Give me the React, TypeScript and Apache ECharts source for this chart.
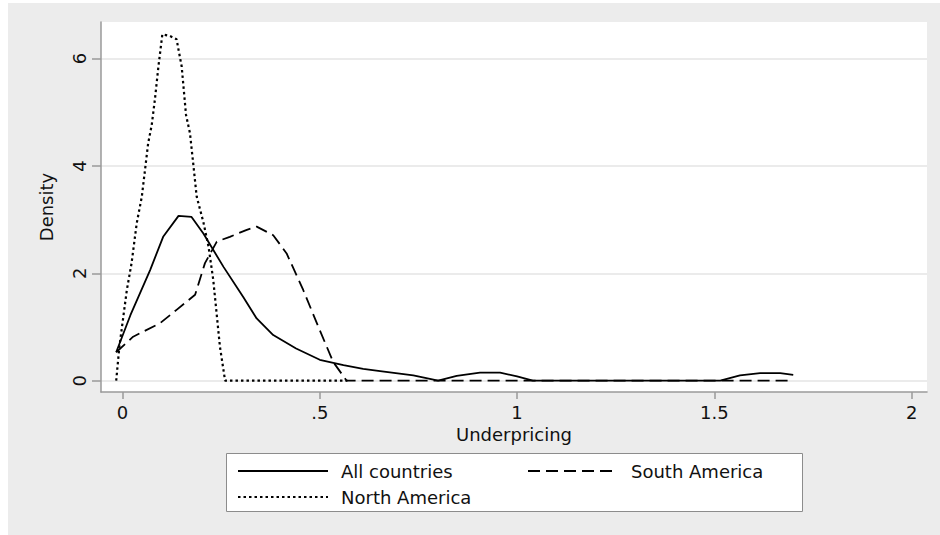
import React, { useEffect, useRef } from "react";
import * as echarts from "echarts";

const seriesNames = ["All countries", "South America", "North America"];

const allX = [-0.016, 0.02, 0.07, 0.103, 0.142, 0.175, 0.205, 0.256, 0.306, 0.34, 0.382, 0.44, 0.5, 0.56, 0.61, 0.653, 0.737, 0.8, 0.847, 0.906, 0.957, 1.0, 1.04, 1.515, 1.565, 1.616, 1.667, 1.7];
const allY = [0.53, 1.22, 2.06, 2.68, 3.07, 3.05, 2.74, 2.12, 1.56, 1.16, 0.85, 0.6, 0.39, 0.29, 0.22, 0.18, 0.1, 0.0, 0.09, 0.15, 0.15, 0.08, 0, 0, 0.1, 0.14, 0.14, 0.11];

const saX = [-0.016, 0.027, 0.095, 0.137, 0.184, 0.209, 0.239, 0.272, 0.315, 0.34, 0.382, 0.416, 0.458, 0.5, 0.534, 0.568, 1.7];
const saY = [0.53, 0.82, 1.07, 1.32, 1.6, 2.19, 2.59, 2.68, 2.81, 2.87, 2.71, 2.37, 1.69, 0.94, 0.35, 0, 0];

const naX = [-0.016, -0.008, 0.011, 0.023, 0.036, 0.049, 0.065, 0.074, 0.082, 0.091, 0.101, 0.12, 0.137, 0.15, 0.161, 0.171, 0.18, 0.188, 0.205, 0.218, 0.23, 0.247, 0.26, 0.57];
const naY = [0, 0.63, 1.69, 2.19, 2.93, 3.43, 4.42, 4.76, 5.23, 5.85, 6.45, 6.42, 6.36, 5.85, 4.95, 4.61, 3.99, 3.43, 2.95, 2.5, 1.88, 0.63, 0, 0];

const xTickValues = [0, 0.5, 1, 1.5, 2];
const xTickLabels = ["0", ".5", "1", "1.5", "2"];
const yTickValues = [0, 2, 4, 6];
const yTickLabels = ["0", "2", "4", "6"];

const xTitle = "Underpricing";
const yTitle = "Density";

const zip = (xs: number[], ys: number[]) => xs.map((x, i) => [x, ys[i]]);

export default function App() {
  const ref = useRef<HTMLDivElement>(null);
  useEffect(() => {
    if (!ref.current) return;
    const chart = echarts.init(ref.current, null, { renderer: "svg" });
    const font = "'DejaVu Sans', 'Liberation Sans', sans-serif";
    const fs = 18;
    const txt = "#111111";
    const axisCol = "#9a9a9a";
    const legendBase = {
      orient: "horizontal",
      itemWidth: 90,
      itemHeight: 14,
      selectedMode: false,
      padding: 0,
      itemStyle: { opacity: 0 },
      textStyle: { fontFamily: font, fontSize: fs, color: txt, padding: [0, 0, 0, 8] },
    };
    const option: any = {
      animation: false,
      backgroundColor: "transparent",
      textStyle: { fontFamily: font },
      graphic: [
        {
          type: "rect",
          z: -100,
          silent: true,
          shape: { x: 8, y: 3, width: 932, height: 532 },
          style: { fill: "#ececec" },
        },
        {
          type: "rect",
          z: 1,
          silent: true,
          shape: { x: 226.5, y: 453.5, width: 576, height: 58 },
          style: { fill: "#ffffff", stroke: "#8c8c8c", lineWidth: 1 },
        },
      ],
      grid: {
        left: 101,
        right: 13,
        top: 22,
        bottom: 143,
        show: true,
        backgroundColor: "#ffffff",
        borderWidth: 0,
        outerBoundsMode: "none",
      },
      legend: [
        { ...legendBase, data: [seriesNames[0]], left: 237, top: 462 },
        { ...legendBase, data: [seriesNames[1]], left: 527, top: 462 },
        { ...legendBase, data: [seriesNames[2]], left: 237, top: 488 },
      ],
      xAxis: {
        type: "value",
        min: -0.0545,
        max: 2.039,
        name: xTitle,
        nameLocation: "middle",
        nameGap: 28,
        nameTextStyle: { fontFamily: font, fontSize: fs, color: txt },
        axisLine: { show: true, onZero: false, lineStyle: { color: axisCol, width: 1.5 } },
        axisTick: { show: true, customValues: xTickValues, length: 7, lineStyle: { color: axisCol, width: 1.5 } },
        axisLabel: {
          customValues: xTickValues,
          formatter: (v: number) => {
            const i = xTickValues.findIndex((t) => Math.abs(t - v) < 1e-9);
            return i >= 0 ? xTickLabels[i] : "";
          },
          fontFamily: font,
          fontSize: fs,
          color: txt,
          margin: 11,
        },
        splitLine: { show: false },
      },
      yAxis: {
        type: "value",
        min: -0.21,
        max: 6.68,
        name: yTitle,
        nameLocation: "middle",
        nameRotate: 90,
        nameGap: 46,
        nameTextStyle: { fontFamily: font, fontSize: fs, color: txt },
        axisLine: { show: true, onZero: false, lineStyle: { color: axisCol, width: 1.5 } },
        axisTick: { show: true, customValues: yTickValues, length: 9, lineStyle: { color: axisCol, width: 1.5 } },
        axisLabel: {
          customValues: yTickValues,
          rotate: 90,
          formatter: (v: number) => {
            const i = yTickValues.findIndex((t) => Math.abs(t - v) < 1e-9);
            return i >= 0 ? yTickLabels[i] : "";
          },
          fontFamily: font,
          fontSize: fs,
          color: txt,
          margin: 13,
        },
        splitLine: { show: true, lineStyle: { color: "#e4e4e4", width: 1.5 } },
      },
      series: [
        {
          name: seriesNames[0],
          type: "line",
          symbol: "none",
          data: zip(allX, allY),
          lineStyle: { color: "#000000", width: 1.8, type: "solid" },
          itemStyle: { color: "#000000" },
          z: 3,
        },
        {
          name: seriesNames[1],
          type: "line",
          symbol: "none",
          data: zip(saX, saY),
          lineStyle: { color: "#000000", width: 1.8, type: [12, 6] },
          itemStyle: { color: "#000000" },
          z: 3,
        },
        {
          name: seriesNames[2],
          type: "line",
          symbol: "none",
          data: zip(naX, naY),
          lineStyle: { color: "#000000", width: 2.2, type: [2.5, 3] },
          itemStyle: { color: "#000000" },
          z: 3,
        },
      ],
    };
    chart.setOption(option);
    return () => chart.dispose();
  }, []);
  return (
    <div
      ref={ref}
      style={{ position: "absolute", left: 0, top: 0, width: 940, height: 535 }}
    />
  );
}
